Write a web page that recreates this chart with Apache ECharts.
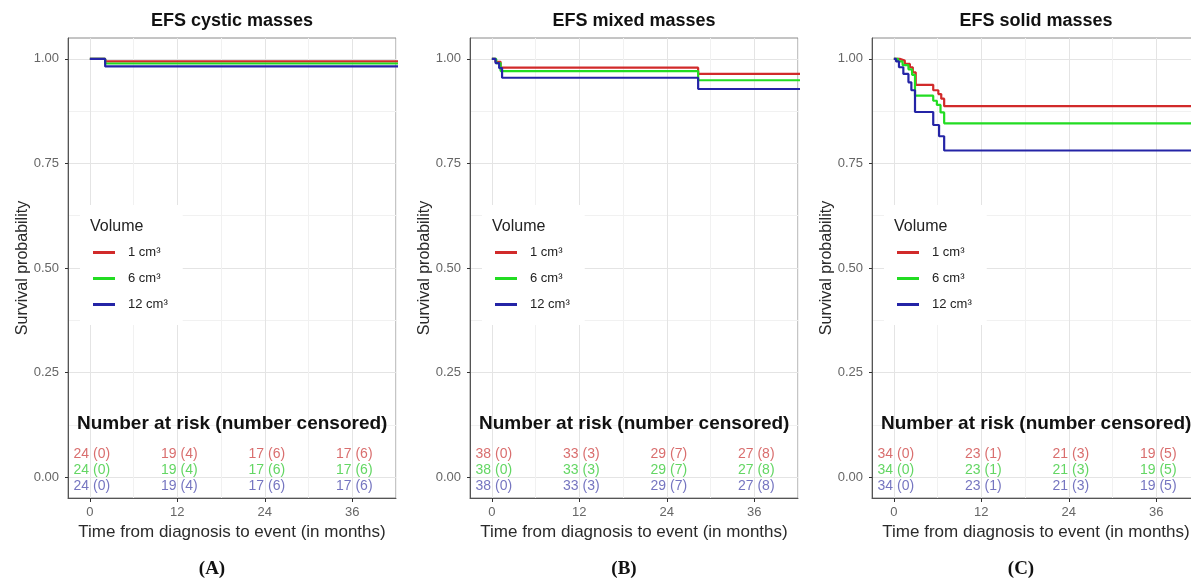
<!DOCTYPE html>
<html>
<head>
<meta charset="utf-8">
<script src="https://cdn.jsdelivr.net/npm/echarts@6/dist/echarts.min.js"></script>
<style>
html, body { margin: 0; padding: 0; background: #fff; }
#chart { width: 1191px; height: 581px; }
</style>
</head>
<body>
<div id="chart"></div>
<script>
// axis ticks and grid
var xTicks = [0, 12, 24, 36];
var xMinor = [6, 18, 30, 42];
var yTicks = [0, 0.25, 0.5, 0.75, 1];
var yMinor = [0.125, 0.375, 0.625, 0.875];

var volumes = ['1 cm³', '6 cm³', '12 cm³'];
var titles = ['EFS cystic masses', 'EFS mixed masses', 'EFS solid masses'];
var tags = ['(A)', '(B)', '(C)'];

// Kaplan-Meier steps, [month, survival]
var cystic1 = [[0, 1], [2.1, 0.994], [45, 0.994]];
var cystic6 = [[0, 1], [2.1, 0.989], [45, 0.989]];
var cystic12 = [[0, 1], [2.1, 0.982], [45, 0.982]];

var mixed1 = [[0, 1], [0.5, 0.993], [1.2, 0.979], [28.3, 0.964], [45, 0.964]];
var mixed6 = [[0, 1], [0.6, 0.99], [1.2, 0.971], [28.3, 0.949], [45, 0.949]];
var mixed12 = [[0, 1], [0.5, 0.99], [1.0, 0.978], [1.4, 0.955], [28.3, 0.928], [45, 0.928]];

var solid1 = [[0, 1], [0.8, 0.996], [1.5, 0.988], [2.2, 0.98], [2.6, 0.968], [3.0, 0.938],
  [5.4, 0.925], [6.1, 0.916], [6.5, 0.905], [6.9, 0.887], [45, 0.887]];
var solid6 = [[0, 1], [0.6, 0.994], [1.2, 0.985], [2.0, 0.975], [2.5, 0.962], [2.9, 0.912],
  [5.4, 0.9], [5.9, 0.89], [6.4, 0.872], [6.9, 0.846], [45, 0.846]];
var solid12 = [[0, 1], [0.3, 0.994], [0.7, 0.98], [1.3, 0.964], [2.0, 0.944], [2.4, 0.925],
  [2.9, 0.873], [5.4, 0.842], [6.2, 0.815], [6.9, 0.781], [45, 0.781]];

// number at risk / number censored at 0, 12, 24, 36 months
var cysticRisk = [24, 19, 17, 17];
var cysticCens = [0, 4, 6, 6];
var mixedRisk = [38, 33, 29, 27];
var mixedCens = [0, 3, 7, 8];
var solidRisk = [34, 23, 21, 19];
var solidCens = [0, 1, 3, 5];

var curves = [[cystic1, cystic6, cystic12], [mixed1, mixed6, mixed12], [solid1, solid6, solid12]];
var risks = [cysticRisk, mixedRisk, solidRisk];
var censored = [cysticCens, mixedCens, solidCens];

// layout
var lineColors = ['#d12a2a', '#22dc22', '#2424a6'];
var tableColors = ['#d04a4a', '#3ccc3c', '#5252b0'];
var panelLeft = [68, 470, 872];
var panelWidth = 328;
var panelTop = 38;
var panelHeight = 460;
var tagX = [212, 624, 1021];
var rowY = [0.055, 0.016, -0.022];
var font = '"Liberation Sans", Arial, sans-serif';

var grids = [], xAxes = [], yAxes = [], series = [], legends = [], graphics = [];

panelLeft.forEach(function (left, i) {
  grids.push({
    left: left, top: panelTop, width: panelWidth, height: panelHeight,
    show: true, borderColor: '#8a8a8a', borderWidth: 1, backgroundColor: '#fff',
    outerBoundsMode: 'none'
  });

  xAxes.push({
    type: 'value', gridIndex: i, min: -3, max: 42,
    name: 'Time from diagnosis to event (in months)',
    nameLocation: 'middle', nameGap: 26, nameMoveOverlap: false,
    nameTextStyle: { fontSize: 17, color: '#2a2a2a', fontFamily: font },
    axisLine: { show: true, onZero: false, lineStyle: { color: '#555', width: 1 } },
    axisTick: { show: true, customValues: xTicks, length: 4, lineStyle: { color: '#333' } },
    axisLabel: { customValues: xTicks, margin: 8, fontSize: 13, color: '#666', fontFamily: font },
    splitLine: { show: true, lineStyle: { color: '#e4e4e4', width: 1 } }
  });
  xAxes.push({
    type: 'value', gridIndex: i, min: -3, max: 42,
    axisLine: { show: false },
    axisTick: { show: false, customValues: xMinor },
    axisLabel: { show: false },
    splitLine: { show: true, lineStyle: { color: '#f1f1f1', width: 1 } }
  });

  yAxes.push({
    type: 'value', gridIndex: i, min: -0.05, max: 1.05,
    name: 'Survival probability',
    nameLocation: 'middle', nameGap: 37, nameMoveOverlap: false,
    nameTextStyle: { fontSize: 16, color: '#2a2a2a', fontFamily: font },
    axisLine: { show: true, onZero: false, lineStyle: { color: '#555', width: 1 } },
    axisTick: { show: true, customValues: yTicks, length: 3, lineStyle: { color: '#333' } },
    axisLabel: {
      customValues: yTicks, margin: 9, fontSize: 13, color: '#666', fontFamily: font,
      formatter: function (v) { return v.toFixed(2); }
    },
    splitLine: { show: true, lineStyle: { color: '#e4e4e4', width: 1 } }
  });
  yAxes.push({
    type: 'value', gridIndex: i, min: -0.05, max: 1.05,
    axisLine: { show: false },
    axisTick: { show: false, customValues: yMinor },
    axisLabel: { show: false },
    splitLine: { show: true, lineStyle: { color: '#f1f1f1', width: 1 } }
  });

  curves[i].forEach(function (data, g) {
    series.push({
      type: 'line', name: volumes[g], step: 'end',
      xAxisIndex: 2 * i, yAxisIndex: 2 * i,
      symbol: 'none', data: data, z: 3 + g,
      lineStyle: { width: 2.2, color: lineColors[g] },
      itemStyle: { color: lineColors[g] }
    });
  });

  // risk table rows
  volumes.forEach(function (v, g) {
    series.push({
      type: 'scatter', xAxisIndex: 2 * i, yAxisIndex: 2 * i,
      symbolSize: 1, silent: true, z: 6,
      itemStyle: { color: 'transparent' },
      data: xTicks.map(function (m) { return [m, rowY[g]]; }),
      label: {
        show: true, position: 'inside', offset: [2, 0],
        fontSize: 14, color: tableColors[g], fontFamily: font,
        formatter: function (p) {
          return risks[i][p.dataIndex] + ' (' + censored[i][p.dataIndex] + ')';
        }
      }
    });
  });

  legends.push({
    data: volumes, orient: 'vertical', left: left + 12, top: 205,
    padding: [41, 15, 14, 13], backgroundColor: '#fff',
    itemWidth: 22, itemHeight: 3, itemGap: 13, icon: 'rect', selectedMode: false,
    textStyle: { fontSize: 13, color: '#222', fontFamily: font, padding: [0, 0, 0, 8] }
  });

  graphics.push({
    type: 'text', x: left + panelWidth / 2, y: 21, z: 100,
    style: { text: titles[i], align: 'center', verticalAlign: 'middle',
      fontSize: 18, fontWeight: 'bold', fontFamily: font, fill: '#111' }
  });
  graphics.push({
    type: 'text', x: left + 22, y: 227, z: 100,
    style: { text: 'Volume', align: 'left', verticalAlign: 'middle',
      fontSize: 16, fontFamily: font, fill: '#222' }
  });
  graphics.push({
    type: 'text', x: left + 9, y: 424, z: 100,
    style: { text: 'Number at risk (number censored)', align: 'left', verticalAlign: 'middle',
      fontSize: 19, fontWeight: 'bold', fontFamily: font, fill: '#111' }
  });
  graphics.push({
    type: 'text', x: tagX[i], y: 569, z: 100,
    style: { text: tags[i], align: 'center', verticalAlign: 'middle',
      fontSize: 19, fontWeight: 'bold', fontFamily: '"Liberation Serif", "DejaVu Serif", serif', fill: '#111' }
  });
});

var myChart = echarts.init(document.getElementById('chart'));
myChart.setOption({
  animation: false,
  backgroundColor: '#fff',
  textStyle: { fontFamily: font },
  grid: grids,
  xAxis: xAxes,
  yAxis: yAxes,
  legend: legends,
  series: series,
  graphic: graphics
});
</script>
</body>
</html>
